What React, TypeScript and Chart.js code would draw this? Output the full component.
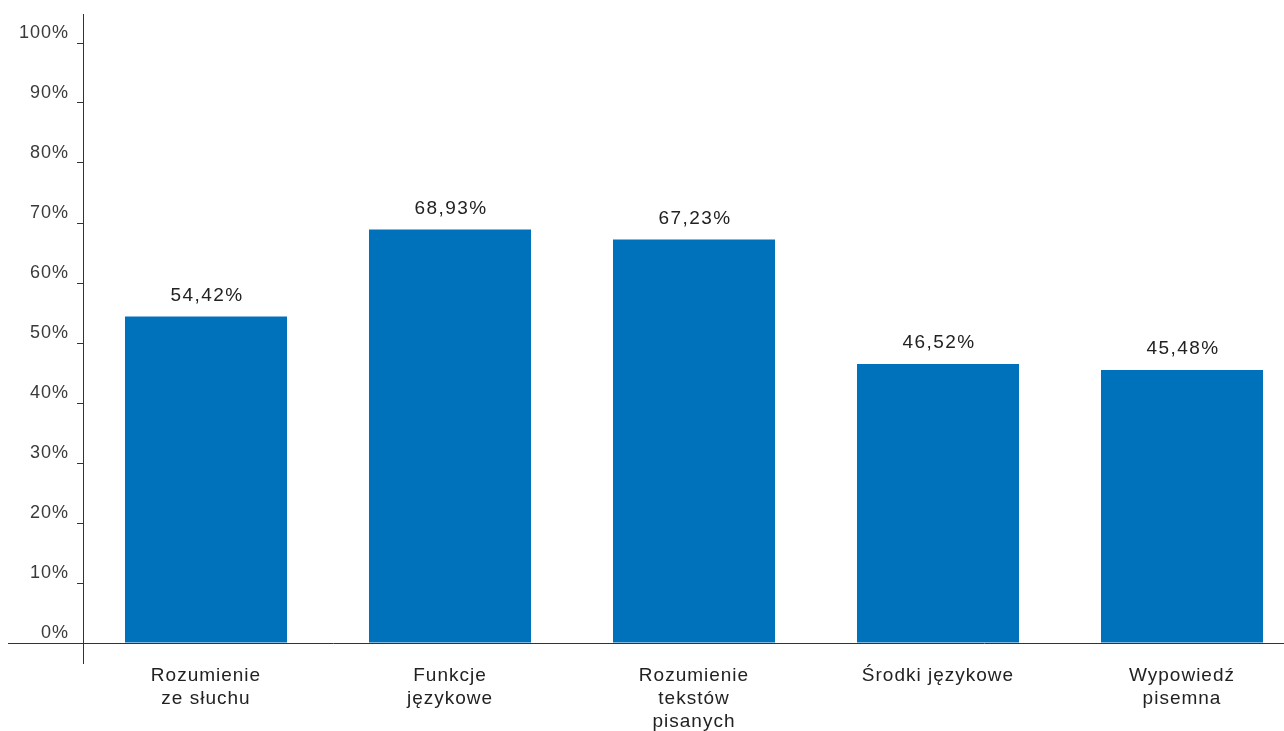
import React, { useEffect, useRef } from "react";
import { Chart, registerables } from "chart.js";

Chart.register(...registerables);

const categories: string[][] = [
  ["Rozumienie", "ze słuchu"],
  ["Funkcje", "językowe"],
  ["Rozumienie", "tekstów", "pisanych"],
  ["Środki językowe"],
  ["Wypowiedź", "pisemna"],
];
const values: number[] = [54.42, 68.93, 67.23, 46.52, 45.48];
const yTicks: number[] = [0, 10, 20, 30, 40, 50, 60, 70, 80, 90, 100];

const FONT = "'Liberation Sans', Arial, Helvetica, sans-serif";
const BAR_COLOR = "#0072BC";

const fmt = (v: number) => v.toFixed(2).replace(".", ",") + "%";

const spacingPlugin = {
  id: "spacing",
  beforeDraw(chart: any) {
    (chart.ctx as any).letterSpacing = "1px";
  },
};

const linesPlugin = {
  id: "axisLines",
  afterDraw(chart: any) {
    const { ctx } = chart;
    const y = chart.scales.y;
    const x0 = Math.round(chart.chartArea.left) - 0.5;
    const yZero = Math.round(y.getPixelForValue(0)) + 0.5;
    ctx.save();
    ctx.strokeStyle = "#333333";
    ctx.lineWidth = 1;
    ctx.beginPath();
    ctx.moveTo(x0, 14);
    ctx.lineTo(x0, 664);
    ctx.moveTo(8, yZero);
    ctx.lineTo(chart.width, yZero);
    ctx.stroke();
    ctx.restore();
  },
};

const labelsPlugin = {
  id: "valueLabels",
  afterDatasetsDraw(chart: any) {
    const { ctx } = chart;
    const meta = chart.getDatasetMeta(0);
    ctx.save();
    ctx.letterSpacing = "1.4px";
    ctx.font = `19px ${FONT}`;
    ctx.fillStyle = "#222222";
    ctx.textAlign = "center";
    ctx.textBaseline = "middle";
    meta.data.forEach((bar: any, i: number) => {
      ctx.fillText(fmt(values[i]), bar.x + 1, bar.y - 21);
    });
    ctx.restore();
  },
};

export default function App() {
  const ref = useRef<HTMLCanvasElement>(null);
  useEffect(() => {
    if (!ref.current) return;
    const chart = new Chart(ref.current, {
      type: "bar",
      data: {
        labels: categories,
        datasets: [
          {
            data: values,
            backgroundColor: BAR_COLOR,
            borderWidth: 0,
            categoryPercentage: 1,
            barPercentage: 0.664,
          },
        ],
      },
      options: {
        animation: false,
        responsive: false,
        devicePixelRatio: 1,
        layout: { padding: { top: 43, left: 0, right: 6, bottom: 0 } },
        plugins: {
          legend: { display: false },
          tooltip: { enabled: false },
        },
        scales: {
          x: {
            offset: true,
            grid: { display: false, drawTicks: false },
            border: { display: false },
            ticks: {
              padding: 21,
              maxRotation: 0,
              autoSkip: false,
              color: "#222222",
              font: { family: FONT, size: 19, lineHeight: 1.21 },
            },
            afterFit: (s: any) => {
              s.height = 88;
            },
          },
          y: {
            min: 0,
            max: 100,
            afterBuildTicks: (s: any) => {
              s.ticks = yTicks.map((v) => ({ value: v }));
            },
            grid: {
              drawOnChartArea: false,
              drawTicks: true,
              tickLength: 7,
              color: "#333333",
            },
            border: { display: false },
            ticks: {
              padding: 8,
              labelOffset: -10,
              color: "#3a3a3a",
              font: { family: FONT, size: 18 },
              callback: (v: any) => `${v}%`,
            },
            afterFit: (s: any) => {
              s.width = 84;
            },
          },
        },
      },
      plugins: [spacingPlugin, linesPlugin, labelsPlugin],
    });
    return () => chart.destroy();
  }, []);
  return (
    <div
      style={{
        position: "fixed",
        left: 0,
        top: 0,
        width: 1284,
        height: 731,
        overflow: "hidden",
        background: "#ffffff",
      }}
    >
      <canvas ref={ref} width={1310} height={731} style={{ width: 1310, height: 731 }} />
    </div>
  );
}
